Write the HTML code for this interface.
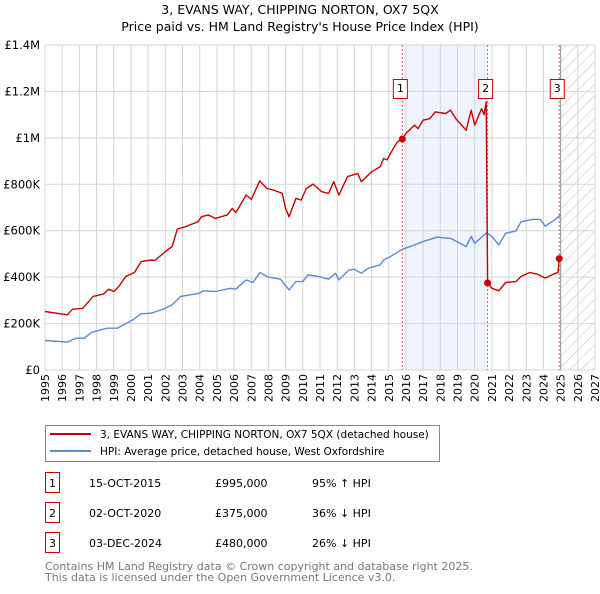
<!DOCTYPE html>
<html><head><meta charset="utf-8">
<style>
body{margin:0;background:#fff;font-family:"DejaVu Sans","Liberation Sans",sans-serif;}
svg text{font-family:"DejaVu Sans","Liberation Sans",sans-serif;}
</style></head>
<body>
<svg id="chart" width="600" height="590" xmlns="http://www.w3.org/2000/svg">
<defs>
<pattern id="hatch" patternUnits="userSpaceOnUse" width="8" height="8" patternTransform="rotate(45)">
<line x1="0" y1="0" x2="0" y2="8" stroke="#bbb" stroke-width="1"/>
</pattern>
</defs>
<text x="300" y="14" font-size="12.5" text-anchor="middle">3, EVANS WAY, CHIPPING NORTON, OX7 5QX</text>
<text x="300" y="31" font-size="12.5" text-anchor="middle">Price paid vs. HM Land Registry's House Price Index (HPI)</text>
<g id="grid"></g>
<g id="marks"></g>
<g id="axes"></g>
<rect x="45.5" y="425.5" width="394" height="36" fill="#fff" stroke="#888"/>
<line x1="50" y1="434" x2="91" y2="434" stroke="#cc0000" stroke-width="2"/>
<text x="100" y="438" font-size="10.5">3, EVANS WAY, CHIPPING NORTON, OX7 5QX (detached house)</text>
<line x1="50" y1="451" x2="91" y2="451" stroke="#5b8bd0" stroke-width="2"/>
<text x="100" y="455" font-size="10.5">HPI: Average price, detached house, West Oxfordshire</text>
<g id="table" font-size="11"></g>
<text x="45" y="570" font-size="11" fill="#777">Contains HM Land Registry data © Crown copyright and database right 2025.</text>
<text x="45" y="581" font-size="11" fill="#777">This data is licensed under the Open Government Licence v3.0.</text>
</svg>
<script>
const yTickValues=[0,200000,400000,600000,800000,1000000,1200000,1400000];
const yTickLabels=["£0","£200K","£400K","£600K","£800K","£1M","£1.2M","£1.4M"];
const xYears=[1995,1996,1997,1998,1999,2000,2001,2002,2003,2004,2005,2006,2007,2008,2009,2010,2011,2012,2013,2014,2015,2016,2017,2018,2019,2020,2021,2022,2023,2024,2025,2026,2027];
const redT=[1995,1996.3,1996.6,1997.2,1997.8,1998.4,1998.7,1999.0,1999.3,1999.7,2000.2,2000.6,2001.2,2001.4,2002,2002.4,2002.7,2003.2,2003.9,2004.1,2004.5,2004.9,2005.6,2005.9,2006.1,2006.7,2007.0,2007.5,2007.9,2008.3,2008.8,2009.0,2009.2,2009.6,2009.9,2010.2,2010.6,2011.1,2011.5,2011.8,2012.1,2012.6,2013.2,2013.4,2014.0,2014.5,2014.7,2014.9,2015.1,2015.5,2015.79,2016.0,2016.5,2016.7,2017.0,2017.4,2017.7,2018.3,2018.6,2018.9,2019.5,2019.8,2020.0,2020.4,2020.55,2020.67,2020.75,2021.0,2021.4,2021.8,2022.4,2022.7,2023.2,2023.6,2024.1,2024.5,2024.85,2024.92];
const redV=[252,238,262,266,317,327,348,338,360,403,420,467,474,472,510,532,607,618,639,660,668,653,668,696,678,754,735,815,782,775,761,696,660,739,732,782,801,768,761,811,754,833,847,811,854,876,911,905,933,983,995,1019,1055,1040,1076,1083,1112,1105,1119,1083,1033,1119,1055,1126,1100,1155,375,352,341,377,381,403,420,414,396,410,421,480];
const blueT=[1995,1996.3,1996.8,1997.3,1997.7,1998.6,1999.2,2000.1,2000.6,2001.2,2002,2002.4,2002.9,2004.0,2004.2,2004.9,2005.8,2006.1,2006.7,2007.1,2007.5,2008.0,2008.7,2009.2,2009.6,2010.0,2010.3,2010.9,2011.5,2011.9,2012.1,2012.7,2013.0,2013.4,2013.8,2014.5,2014.7,2015.1,2015.8,2016.5,2017.0,2017.8,2018.6,2019.5,2019.8,2020.0,2020.7,2021.0,2021.4,2021.8,2022.4,2022.7,2023.4,2023.8,2024.1,2024.7,2025.0];
const blueV=[127,120,137,137,162,180,180,216,242,245,266,281,317,331,341,338,352,348,388,377,420,400,391,345,381,381,410,403,391,417,388,431,434,417,438,453,474,489,520,539,553,572,567,532,575,546,592,575,539,589,599,639,649,649,620,649,668];
const saleT=[2015.79,2020.75,2024.92];
const saleV=[995,375,480];
const saleLabels=["1","2","3"];
const saleDates=["15-OCT-2015","02-OCT-2020","03-DEC-2024"];
const salePrices=["£995,000","£375,000","£480,000"];
const saleHpi=["95% ↑ HPI","36% ↓ HPI","26% ↓ HPI"];

const NS="http://www.w3.org/2000/svg";
const L=45,R=595,T=45,B=370;
const xs=t=>L+(t-1995)/(2027-1995)*(R-L);
const ys=v=>B-v/1400000*(B-T);
function mk(tag,attrs,parent,text){const e=document.createElementNS(NS,tag);for(const k in attrs)e.setAttribute(k,attrs[k]);if(text!==undefined)e.textContent=text;parent.appendChild(e);return e;}
const grid=document.getElementById('grid'),marks=document.getElementById('marks'),axes=document.getElementById('axes'),table=document.getElementById('table');

let sh=mk('rect',{x:xs(saleT[0]),y:T,width:xs(saleT[1])-xs(saleT[0]),height:B-T,fill:'#eef3fc'},grid);


let hz=mk('rect',{x:xs(2025),y:T,width:R-xs(2025),height:B-T,fill:'url(#hatch)'},grid);



xYears.forEach(y=>{
  const g=mk('line',{x1:xs(y),x2:xs(y),y1:T,y2:B,stroke:'#d4d4d4','stroke-width':1},grid);
  
  
  const t=mk('text',{x:0,y:0,'font-size':11,'text-anchor':'end',transform:`translate(${xs(y)+4},374) rotate(-90)`},axes,String(y));
  
  
});
yTickValues.forEach((v,i)=>{
  const g=mk('line',{x1:L,x2:R,y1:ys(v),y2:ys(v),stroke:'#d4d4d4','stroke-width':1},grid);
  
  
  const t=mk('text',{x:40,y:ys(v)+4,'font-size':11.5,'text-anchor':'end'},axes,yTickLabels[i]);
  
  
});
let fl=mk('line',{x1:xs(2025),x2:xs(2025),y1:T,y2:B,stroke:'#999','stroke-width':1},grid);


saleT.forEach((s,i)=>{
  const l=mk('line',{x1:xs(s),x2:xs(s),y1:T,y2:B,stroke:'#e06060','stroke-width':1,'stroke-dasharray':'2,2'},grid);
  
  
});
function path(tArr,vArr,color,name){
  const d=tArr.map((t,i)=>(i?'L':'M')+xs(t).toFixed(1)+','+ys(vArr[i]*1000).toFixed(1)).join('');
  const p=mk('path',{d:d,fill:'none',stroke:color,'stroke-width':1.4,'stroke-linejoin':'round'},marks);
  
  
}
path(blueT,blueV,'#5b8bd0','hpi-line');
path(redT,redV,'#cc0000','property-line');
saleT.forEach((s,i)=>{
  const c=mk('circle',{cx:xs(s),cy:ys(saleV[i]*1000),r:3.5,fill:'#cc0000'},marks);
  
  
  const bx=xs(s)-2;
  const b=mk('rect',{x:bx-7,y:79.5,width:14,height:19,fill:'#fff',stroke:'#cc0000'},marks);
  
  
  const t=mk('text',{x:bx,y:92,'font-size':11,'text-anchor':'middle'},marks,saleLabels[i]);
  
  
});
saleT.forEach((s,i)=>{
  const y=483+i*30;
  const b=mk('rect',{x:45.5,y:y-10.5,width:14,height:20,fill:'#fff',stroke:'#cc0000'},table);
  
  
  const a=mk('text',{x:52.5,y:y+4,'text-anchor':'middle'},table,saleLabels[i]);
  
  
  const d=mk('text',{x:89,y:y+4},table,saleDates[i]);
  
  
  const p=mk('text',{x:215,y:y+4},table,salePrices[i]);
  
  
  const h=mk('text',{x:312,y:y+4},table,saleHpi[i]);
  
  
});
</script>
</body></html>
